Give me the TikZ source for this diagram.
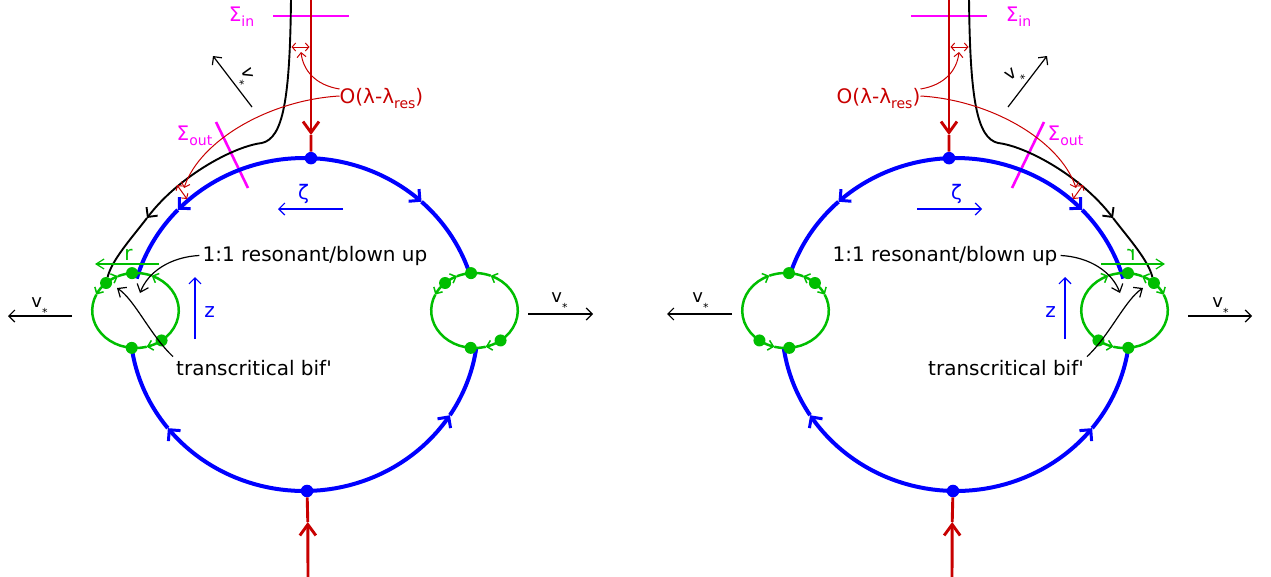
\documentclass[tikz,border=0pt]{standalone}
\usepackage{fontspec}
\setmainfont{DejaVu Sans}
\usetikzlibrary{arrows.meta}
\definecolor{myblue}{RGB}{0,0,255}
\definecolor{myred}{RGB}{200,0,0}
\definecolor{mymag}{RGB}{255,0,255}
\definecolor{mygreen}{RGB}{0,190,0}
\tikzset{
 bline/.style={myblue, line width=4pt},
 bdot/.style={circle, fill=myblue, inner sep=0pt, minimum size=12.5pt},
 gline/.style={mygreen, line width=2.5pt},
 gdot/.style={circle, fill=mygreen, inner sep=0pt, minimum size=12pt},
 rthick/.style={myred, line width=2.9pt},
 rthin/.style={myred, line width=1pt},
 mline/.style={mymag, line width=2.6pt},
 kline/.style={black, line width=1.9pt},
 kthin/.style={black, line width=1.2pt},
 bthin/.style={myblue, line width=1.2pt},
 gthin/.style={mygreen, line width=1.2pt},
 lab/.style={font=\fontsize{20}{24}\selectfont, inner sep=0pt},
 vlab/.style={font=\fontsize{18}{22}\selectfont, inner sep=0pt},
 btip/.style={-{Straight Barb[length=8pt,width=16pt,line width=3pt]}},
 gtip/.style={-{Straight Barb[length=5pt,width=10pt,line width=1.5pt]}},
 rtip/.style={-{Straight Barb[length=11pt,width=16pt,line width=2.9pt]}},
 ktip/.style={-{Straight Barb[length=6pt,width=12pt]}},
 smalltips/.style={{Straight Barb[length=3.5pt,width=8pt]}-{Straight Barb[length=3.5pt,width=8pt]}},
}
\newcommand\sbs[1]{\raisebox{-0.25em}{\fontsize{14}{14}\selectfont #1}}
\newcommand\vstar{v\raisebox{-0.5em}{\fontsize{11}{11}\selectfont *}}
% blue arc: #1 start angle, #2 end angle, #3 arrow angle
\newcommand\bluearc[3]{%
 \draw[bline, btip] plot[domain=0:1, samples=25] ({304+174*cos((#1)+((#3)-(#1))*\x)}, {324.5-166.5*sin((#1)+((#3)-(#1))*\x)});
 \draw[bline] plot[domain=0:1, samples=25] ({304+174*cos((#3)+((#2)-(#3))*\x)}, {324.5-166.5*sin((#3)+((#2)-(#3))*\x)});
}
% green arc: #1 cx, #2 cy, #3 start, #4 end, #5 arrow angle
\newcommand\garc[5]{%
 \draw[gline, gtip] plot[domain=0:1, samples=15] ({#1+43.3*cos((#3)+((#5)-(#3))*\x)}, {#2-37.5*sin((#3)+((#5)-(#3))*\x)});
 \draw[gline] plot[domain=0:1, samples=15] ({#1+43.3*cos((#5)+((#4)-(#5))*\x)}, {#2-37.5*sin((#5)+((#4)-(#5))*\x)});
}
\newcommand\gcirc[3]{%
 \garc{#1}{#2}{132.8}{94.6}{114}
 \garc{#1}{#2}{-53}{94.6}{68}
 \garc{#1}{#2}{132.8}{265}{155}
 \garc{#1}{#2}{307}{265}{285}
 \node[gdot] (#3a) at ({#1+43.3*cos(132.8)},{#2-37.5*sin(132.8)}) {};
 \node[gdot] (#3b) at ({#1+43.3*cos(94.6)},{#2-37.5*sin(94.6)}) {};
 \node[gdot] (#3c) at ({#1+43.3*cos(-53)},{#2-37.5*sin(-53)}) {};
 \node[gdot] (#3d) at ({#1+43.3*cos(265)},{#2-37.5*sin(265)}) {};
}
\newcommand\halfdiag[3]{%
 % sections
 \coordinate (si1#3) at (273,16); \coordinate (si2#3) at (349,16);
 \draw[mline] (si1#3) -- (si2#3);
 \coordinate (so1#3) at (216,122); \coordinate (so2#3) at (248,188);
 \draw[mline] (so1#3) -- (so2#3);
 \node[lab, mymag, anchor=base] (sin#3) at (241.5,21) {Σ\sbs{in}};
 \node[lab, mymag, anchor=base] (sout#3) at (194.5,140) {Σ\sbs{out}};
 % blue cycle
 \bluearc{87.7}{164}{136.5}
 \bluearc{87.7}{18}{47.5}
 \bluearc{271}{187}{218.5}
 \bluearc{271}{352}{327}
 \node[bdot] (top#3) at ({304+174*cos(87.7)},{324.5-166.5*sin(87.7)}) {};
 \node[bdot] (bot#3) at ({304+174*cos(271)},{324.5-166.5*sin(271)}) {};
 % green circles
 \gcirc{135.5}{310.5}{gl#3}
 \gcirc{474.5}{310.5}{gr#3}
 % red lines
 \coordinate (rt#3) at (311,-2);
 \coordinate (rtm#3) at (311,135);
 \coordinate (rb#3) at (308,578);
 \coordinate (rbm#3) at (307.8,522);
 \draw[rthick, rtip] (rt#3) -- (rtm#3);
 \draw[rthick] (rtm#3) -- (top#3);
 \draw[rthick, rtip] (rb#3) -- (rbm#3);
 \draw[rthick] (rbm#3) -- (bot#3);
 % black trajectory
 \coordinate (k0#3) at (291,-2);
 \coordinate (k1#3) at (262,143);
 \coordinate (k2#3) at (147,218);
 \draw[kline] (k0#3) .. controls (290,100) and (283,138) .. (k1#3);
 \draw[kline, -{Straight Barb[length=7pt,width=14pt]}] (k1#3) .. controls (235,146) and (180,175) .. (k2#3);
 \draw[kline] (k2#3) .. controls (130,240) and (112,260) .. (gl#3a);
 % O(lambda - lambda_res)
 \coordinate (d1#3) at (291.5,47); \coordinate (d2#3) at (309.5,47);
 \draw[rthin, smalltips] (d1#3) -- (d2#3);
 \coordinate (d3#3) at (177,185); \coordinate (d4#3) at (187,199);
 \draw[rthin, smalltips] (d3#3) -- (d4#3);
 \node[lab, myred, anchor=base] (O#3) at (381.5,103) {O(λ-λ\sbs{res})};
 \coordinate (ot1#3) at (301,52);
 \coordinate (ot2#3) at (184,188);
 \draw[rthin, -{Straight Barb[length=4.5pt,width=9pt]}] ([yshift=9pt]O#3.#1) .. controls (315,85) and (303,70) .. (ot1#3);
 \draw[rthin, -{Straight Barb[length=4.5pt,width=9pt]}] ([yshift=2pt]O#3.#1) .. controls (270,100) and (200,140) .. (ot2#3);
 % v_* arrows
 \coordinate (va1#3) at (252,107); \coordinate (va2#3) at (213,56);
 \draw[kthin, ktip] (va1#3) -- (va2#3);
 \node[vlab, rotate=#2] (vla#3) at (244,77) {\vstar};
 \coordinate (vb1#3) at (72,316); \coordinate (vb2#3) at (8,316);
 \draw[kthin, ktip] (vb1#3) -- (vb2#3);
 \node[vlab, anchor=base] (vlb#3) at (39.5,307) {\vstar};
 \coordinate (vc1#3) at (528,314); \coordinate (vc2#3) at (593,314);
 \draw[kthin, ktip] (vc1#3) -- (vc2#3);
 \node[vlab, anchor=base] (vlc#3) at (559.5,302) {\vstar};
 % zeta, z
 \coordinate (ze1#3) at (343,209); \coordinate (ze2#3) at (278,209);
 \draw[bthin, ktip] (ze1#3) -- (ze2#3);
 \node[lab, myblue, anchor=base] (zeta#3) at (303.5,199) {ζ};
 \coordinate (zz1#3) at (195,339); \coordinate (zz2#3) at (195,277);
 \draw[bthin, ktip] (zz1#3) -- (zz2#3);
 \node[lab, myblue, anchor=base] (zl#3) at (209.5,317) {z};
 % r
 \coordinate (rr1#3) at (159,264); \coordinate (rr2#3) at (95,264);
 \draw[gthin, -{Straight Barb[length=8pt,width=10pt]}] (rr1#3) -- (rr2#3);
 \node[lab, mygreen, anchor=base, transform shape] (rl#3) at (128.5,260) {r};
 % annotations
 \node[lab, anchor=base, inner sep=3pt] (res#3) at (315,261) {1:1 resonant/blown up};
 \coordinate (rest#3) at (140,293);
 \draw[kthin, -{Straight Barb[length=7pt,width=12pt]}] (res#3.#1) .. controls (170,257) and (148,272) .. (rest#3);
 \node[lab, anchor=base, inner sep=3pt] (tr#3) at (254,375) {transcritical bif\textquotesingle};
 \coordinate (trt#3) at (117,288);
 \draw[kthin, -{Straight Barb[length=7pt,width=12pt]}] (tr#3.north #1) .. controls (150,335) and (135,300) .. (trt#3);
}
\begin{document}
\begin{tikzpicture}[x=1pt,y=-1pt]
\useasboundingbox (0,0) rectangle (1271,576);
\halfdiag{west}{-75}{L}
\begin{scope}[xshift=1260pt,xscale=-1]
\halfdiag{east}{35}{R}
\end{scope}
\end{tikzpicture}
\end{document}
